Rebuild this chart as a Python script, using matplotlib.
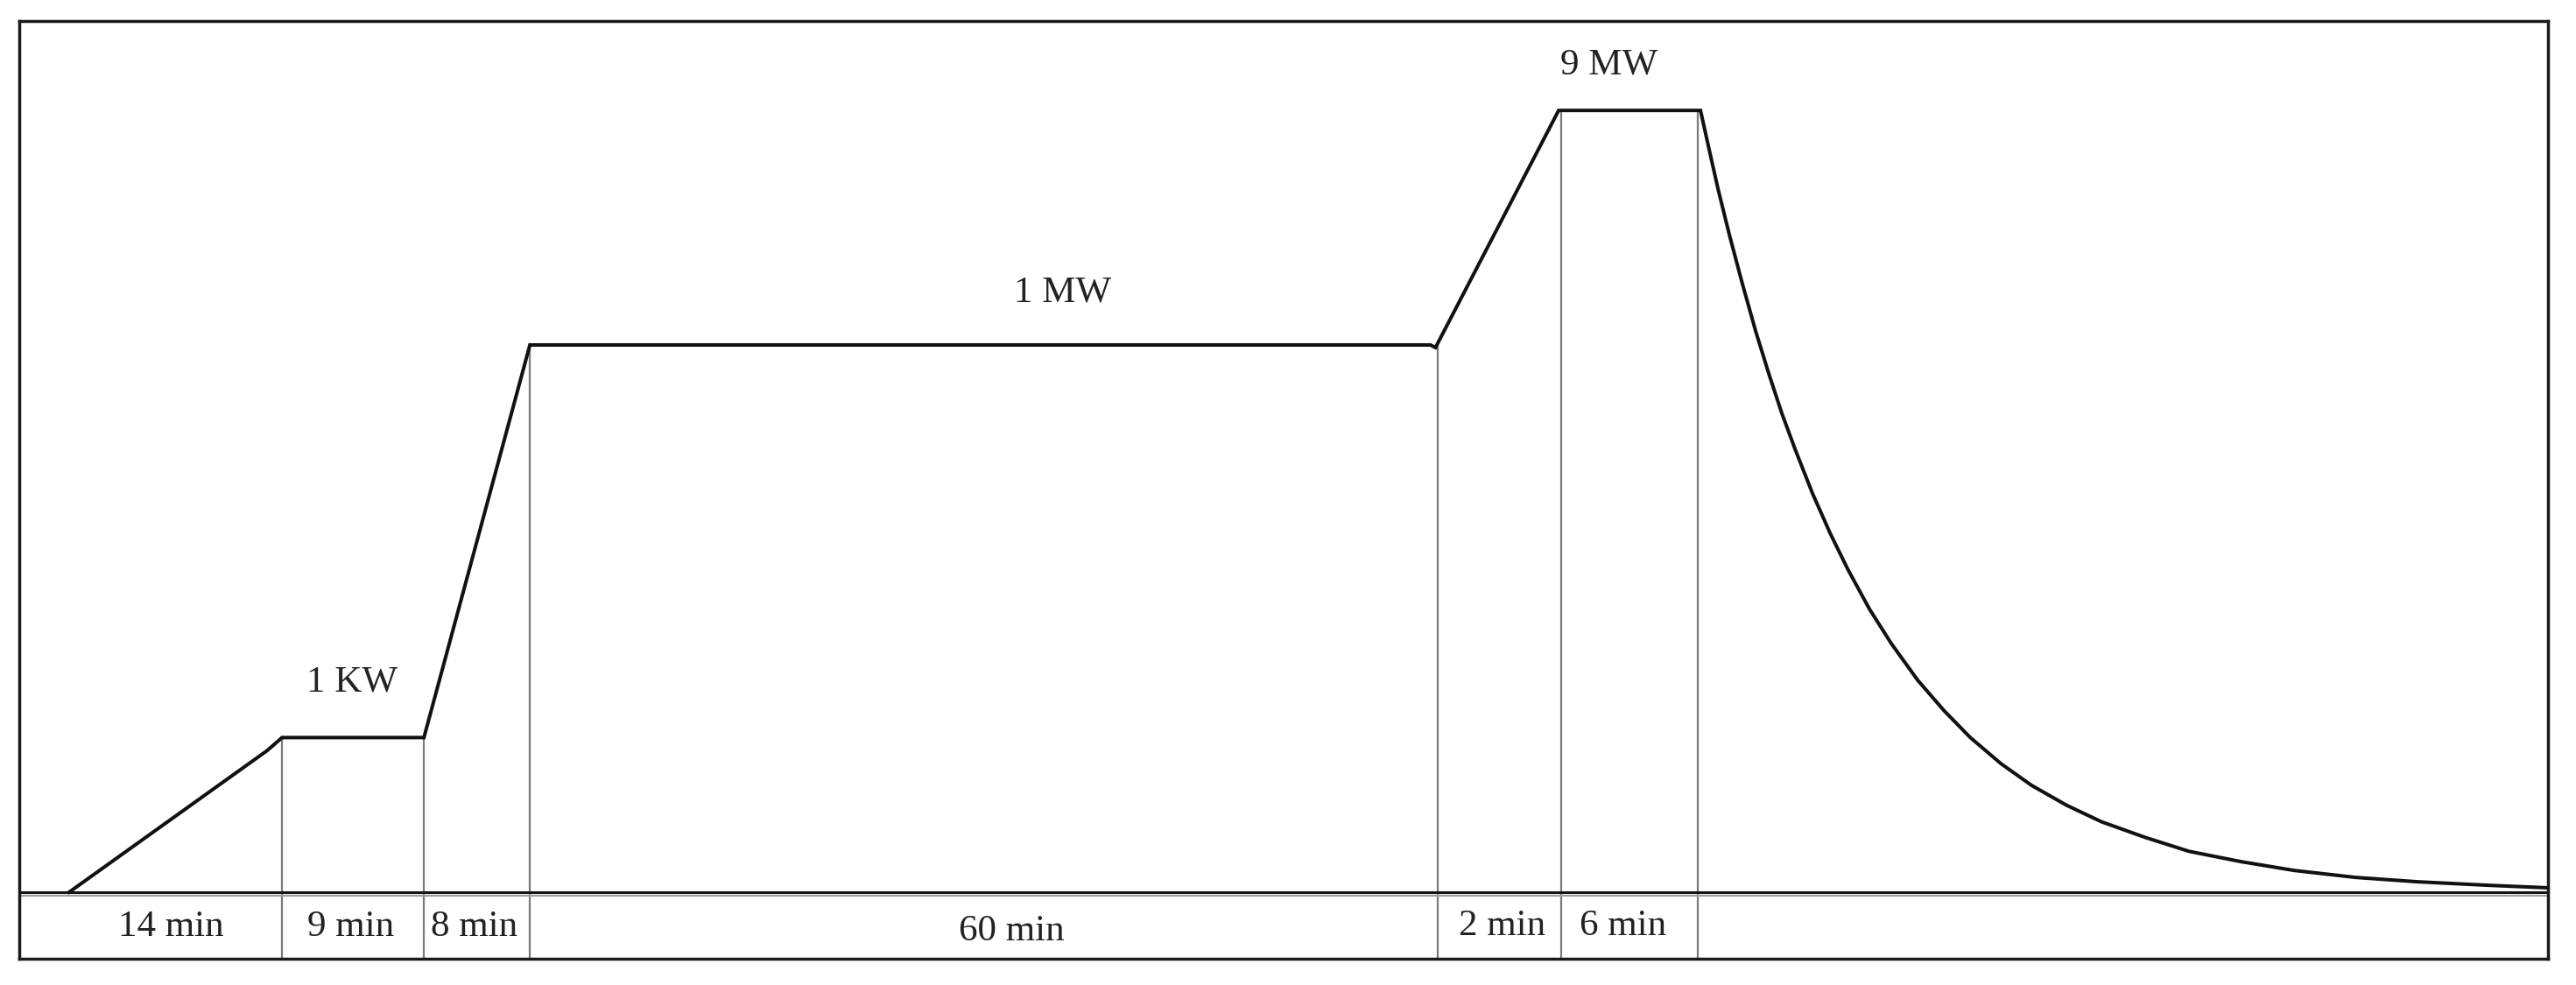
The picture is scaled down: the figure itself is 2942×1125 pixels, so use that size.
import matplotlib.pyplot as plt

# schematic load profile, x in arbitrary units (box = 0..100), power in units where 9 MW = 9
profile_x = [1.97, 9.80, 10.39, 16.00, 20.19, 55.80, 56.00, 60.87, 66.48,
             66.83, 67.17, 67.62, 68.14, 68.66, 69.18, 69.70, 70.22, 70.91,
             71.61, 72.30, 73.16, 74.03, 75.07, 76.11, 77.15, 78.36, 79.57,
             80.96, 82.34, 84.07, 85.80, 87.88, 89.96, 92.38, 94.81, 97.58,
             100.0]
profile_y = [0.0, 1.63, 1.78, 1.78, 6.30, 6.30, 6.27, 9.0, 9.0,
             8.54, 8.10, 7.57, 7.00, 6.46, 5.97, 5.51, 5.10, 4.59,
             4.13, 3.72, 3.26, 2.86, 2.44, 2.09, 1.78, 1.48, 1.23,
             1.00, 0.81, 0.63, 0.47, 0.35, 0.25, 0.17, 0.12, 0.08,
             0.05]

# phase boundaries and the level each one starts from
boundary_x = [10.39, 16.00, 20.19, 56.10, 60.97, 66.38]
boundary_top = [1.78, 1.78, 6.30, 6.30, 9.0, 9.0]

durations = ['14 min', '9 min', '8 min', '60 min', '2 min', '6 min']
duration_x = [5.99, 13.09, 17.97, 39.23, 58.62, 63.40]
duration_y = [-0.40, -0.40, -0.40, -0.45, -0.39, -0.39]

levels = ['1 KW', '1 MW', '9 MW']
level_x = [13.16, 41.25, 62.85]
level_y = [2.42, 6.90, 9.52]

x_min, x_max = 0, 100
y_min, y_max = -0.766, 10.03

plt.rcParams['font.family'] = ['Liberation Serif', 'DejaVu Serif']

fig = plt.figure(figsize=(29.42, 11.25), dpi=100)
ax = fig.add_axes([0.0075, 0.0267, 0.9817, 0.952])

# thin phase separators
for bx, top in zip(boundary_x, boundary_top):
    ax.plot([bx, bx], [y_min, top], color='#7a7a7a', lw=1.6, zorder=1)

# time axis line (drawn slightly doubled like the scan)
ax.axhline(-0.045, color='#a0a0a0', lw=1.6, zorder=2)
ax.axhline(0, color='#151515', lw=2.2, zorder=2)

ax.plot(profile_x, profile_y, color='#111111', lw=2.9, zorder=3,
        solid_joinstyle='miter')

for txt, tx, ty in zip(durations, duration_x, duration_y):
    ax.text(tx, ty, txt, ha='center', va='center', fontsize=31, color='#222222')
for txt, tx, ty in zip(levels, level_x, level_y):
    ax.text(tx, ty, txt, ha='center', va='center', fontsize=31, color='#222222')

ax.set_xlim(x_min, x_max)
ax.set_ylim(y_min, y_max)
ax.set_xticks([])
ax.set_yticks([])
for s in ax.spines.values():
    s.set_linewidth(2.5)
    s.set_color('#1a1a1a')

fig.savefig('out.png', dpi=100, facecolor='white')
